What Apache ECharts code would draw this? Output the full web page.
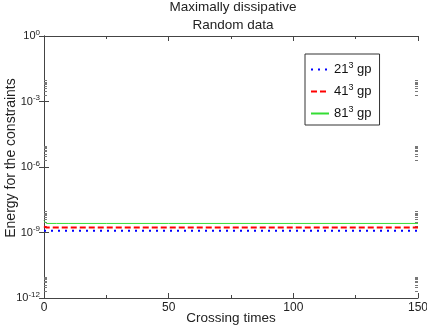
<!DOCTYPE html>
<html>
<head>
<meta charset="utf-8">
<script src="https://cdn.jsdelivr.net/npm/echarts@6/dist/echarts.min.js"></script>
<style>
  html, body { margin: 0; padding: 0; background: #fff; }
  #chart { width: 427px; height: 327px; }
</style>
</head>
<body>
<div id="chart"></div>
<script>
// data
var times = [0, 1, 2, 5, 10, 25, 50, 75, 100, 125, 150];
var gp21 = [1.2e-9, 1.2e-9, 1.2e-9, 1.2e-9, 1.2e-9, 1.2e-9, 1.2e-9, 1.2e-9, 1.2e-9, 1.2e-9, 1.2e-9];
var gp41 = [1.9e-9, 1.68e-9, 1.68e-9, 1.68e-9, 1.68e-9, 1.68e-9, 1.68e-9, 1.68e-9, 1.68e-9, 1.68e-9, 1.68e-9];
var gp81 = [3.5e-9, 2.6e-9, 2.6e-9, 2.6e-9, 2.6e-9, 2.6e-9, 2.6e-9, 2.6e-9, 2.6e-9, 2.6e-9, 2.6e-9];
var seriesNames = ['21^3 gp', '41^3 gp', '81^3 gp'];

// y minor ticks (2..9 x 10^k) only above the labelled decades
var minorMant = [2, 3, 4, 5, 6, 7, 8, 9];
var minorDecades = [-3, -6, -9, -12];
var yMinor = [];
minorDecades.forEach(function (d) {
    minorMant.forEach(function (m) { yMinor.push(m * Math.pow(10, d)); });
});

function pairs(ys) {
    return times.map(function (t, i) { return [t, ys[i]]; });
}

var axisCol = '#444';
var font = 'Liberation Sans, Arial, sans-serif';

var myChart = echarts.init(document.getElementById('chart'));

function yAxisBase(pos, withLabels) {
    return {
        type: 'log',
        logBase: 10,
        min: 1e-12,
        max: 1,
        interval: 3,
        position: pos,
        axisLine: { show: true, lineStyle: { color: axisCol, width: 1 } },
        axisTick: { show: true, inside: true, length: 5, lineStyle: { color: axisCol } },
        splitLine: { show: false },
        axisLabel: withLabels ? {
            show: true,
            margin: 4,
            fontFamily: font,
            color: '#222',
            formatter: function (v) {
                var e = Math.round(Math.log10(v));
                return '{b|10}{s|' + e + '}';
            },
            rich: {
                b: { fontSize: 11, fontFamily: font, color: '#222' },
                s: { fontSize: 8, fontFamily: font, color: '#222', padding: [0, 0, 7, 0] }
            }
        } : { show: false }
    };
}

function yMinorAxis(pos) {
    return {
        type: 'log',
        logBase: 10,
        min: 1e-12,
        max: 1,
        position: pos,
        axisLine: { show: false },
        axisTick: { show: true, inside: true, length: 3, customValues: yMinor, lineStyle: { color: '#777' } },
        axisLabel: { show: false },
        splitLine: { show: false }
    };
}

function xAxisBase(pos, withLabels) {
    return {
        type: 'value',
        min: 0,
        max: 150,
        interval: 50,
        position: pos,
        name: withLabels ? 'Crossing times' : '',
        nameLocation: 'middle',
        nameGap: 13,
        nameMoveOverlap: false,
        nameTextStyle: { fontSize: 13.5, fontFamily: font, color: '#222' },
        axisLine: { show: true, onZero: false, lineStyle: { color: axisCol, width: 1 } },
        axisTick: { show: true, inside: true, length: 5, lineStyle: { color: axisCol } },
        minorTick: { show: true, splitNumber: 2, length: 3, lineStyle: { color: axisCol } },
        splitLine: { show: false },
        axisLabel: withLabels ? { show: true, margin: 4, fontSize: 12, fontFamily: font, color: '#222' } : { show: false }
    };
}

var yLeft = yAxisBase('left', true);
yLeft.name = 'Energy for the constraints';
yLeft.nameLocation = 'middle';
yLeft.nameGap = 26;
yLeft.nameMoveOverlap = false;
yLeft.nameTextStyle = { fontSize: 14, fontFamily: font, color: '#222', padding: [0, 0, 0, 18] };

myChart.setOption({
    animation: false,
    backgroundColor: '#fff',
    title: {
        text: 'Maximally dissipative\nRandom data',
        left: 233,
        textAlign: 'center',
        top: -2,
        padding: 0,
        textStyle: { fontSize: 13.5, fontWeight: 'normal', fontFamily: font, color: '#222', lineHeight: 18 }
    },
    grid: { left: 44, right: 9, top: 36, bottom: 29, containLabel: false, outerBoundsMode: 'none' },
    legend: {
        orient: 'vertical',
        left: 305,
        top: 54,
        padding: [7, 8, 5, 5],
        itemGap: 7,
        itemWidth: 18,
        itemHeight: 10,
        borderColor: '#333',
        borderWidth: 1,
        backgroundColor: '#fff',
        itemStyle: { opacity: 0 },
        data: seriesNames,
        formatter: function (name) {
            var p = name.split('^');
            var rest = p[1].split(' ');
            return '{b|' + p[0] + '}{s|' + rest[0] + '}{b| ' + rest[1] + '}';
        },
        textStyle: {
            rich: {
                b: { fontSize: 13, fontFamily: font, color: '#111' },
                s: { fontSize: 9, fontFamily: font, color: '#111', padding: [0, 0, 8, 0] }
            }
        }
    },
    xAxis: [xAxisBase('bottom', true), xAxisBase('top', false)],
    yAxis: [yLeft, yAxisBase('right', false), yMinorAxis('left'), yMinorAxis('right')],
    series: [
        {
            name: seriesNames[0], type: 'line', symbol: 'none',
            lineStyle: { color: '#0000ff', width: 2, type: [2, 5] },
            itemStyle: { color: '#0000ff' },
            data: pairs(gp21)
        },
        {
            name: seriesNames[1], type: 'line', symbol: 'none',
            lineStyle: { color: '#ff0000', width: 2, type: [6, 3] },
            itemStyle: { color: '#ff0000' },
            data: pairs(gp41)
        },
        {
            name: seriesNames[2], type: 'line', symbol: 'none',
            lineStyle: { color: '#33dd33', width: 1 },
            itemStyle: { color: '#33dd33' },
            data: pairs(gp81)
        }
    ]
});
</script>
</body>
</html>
